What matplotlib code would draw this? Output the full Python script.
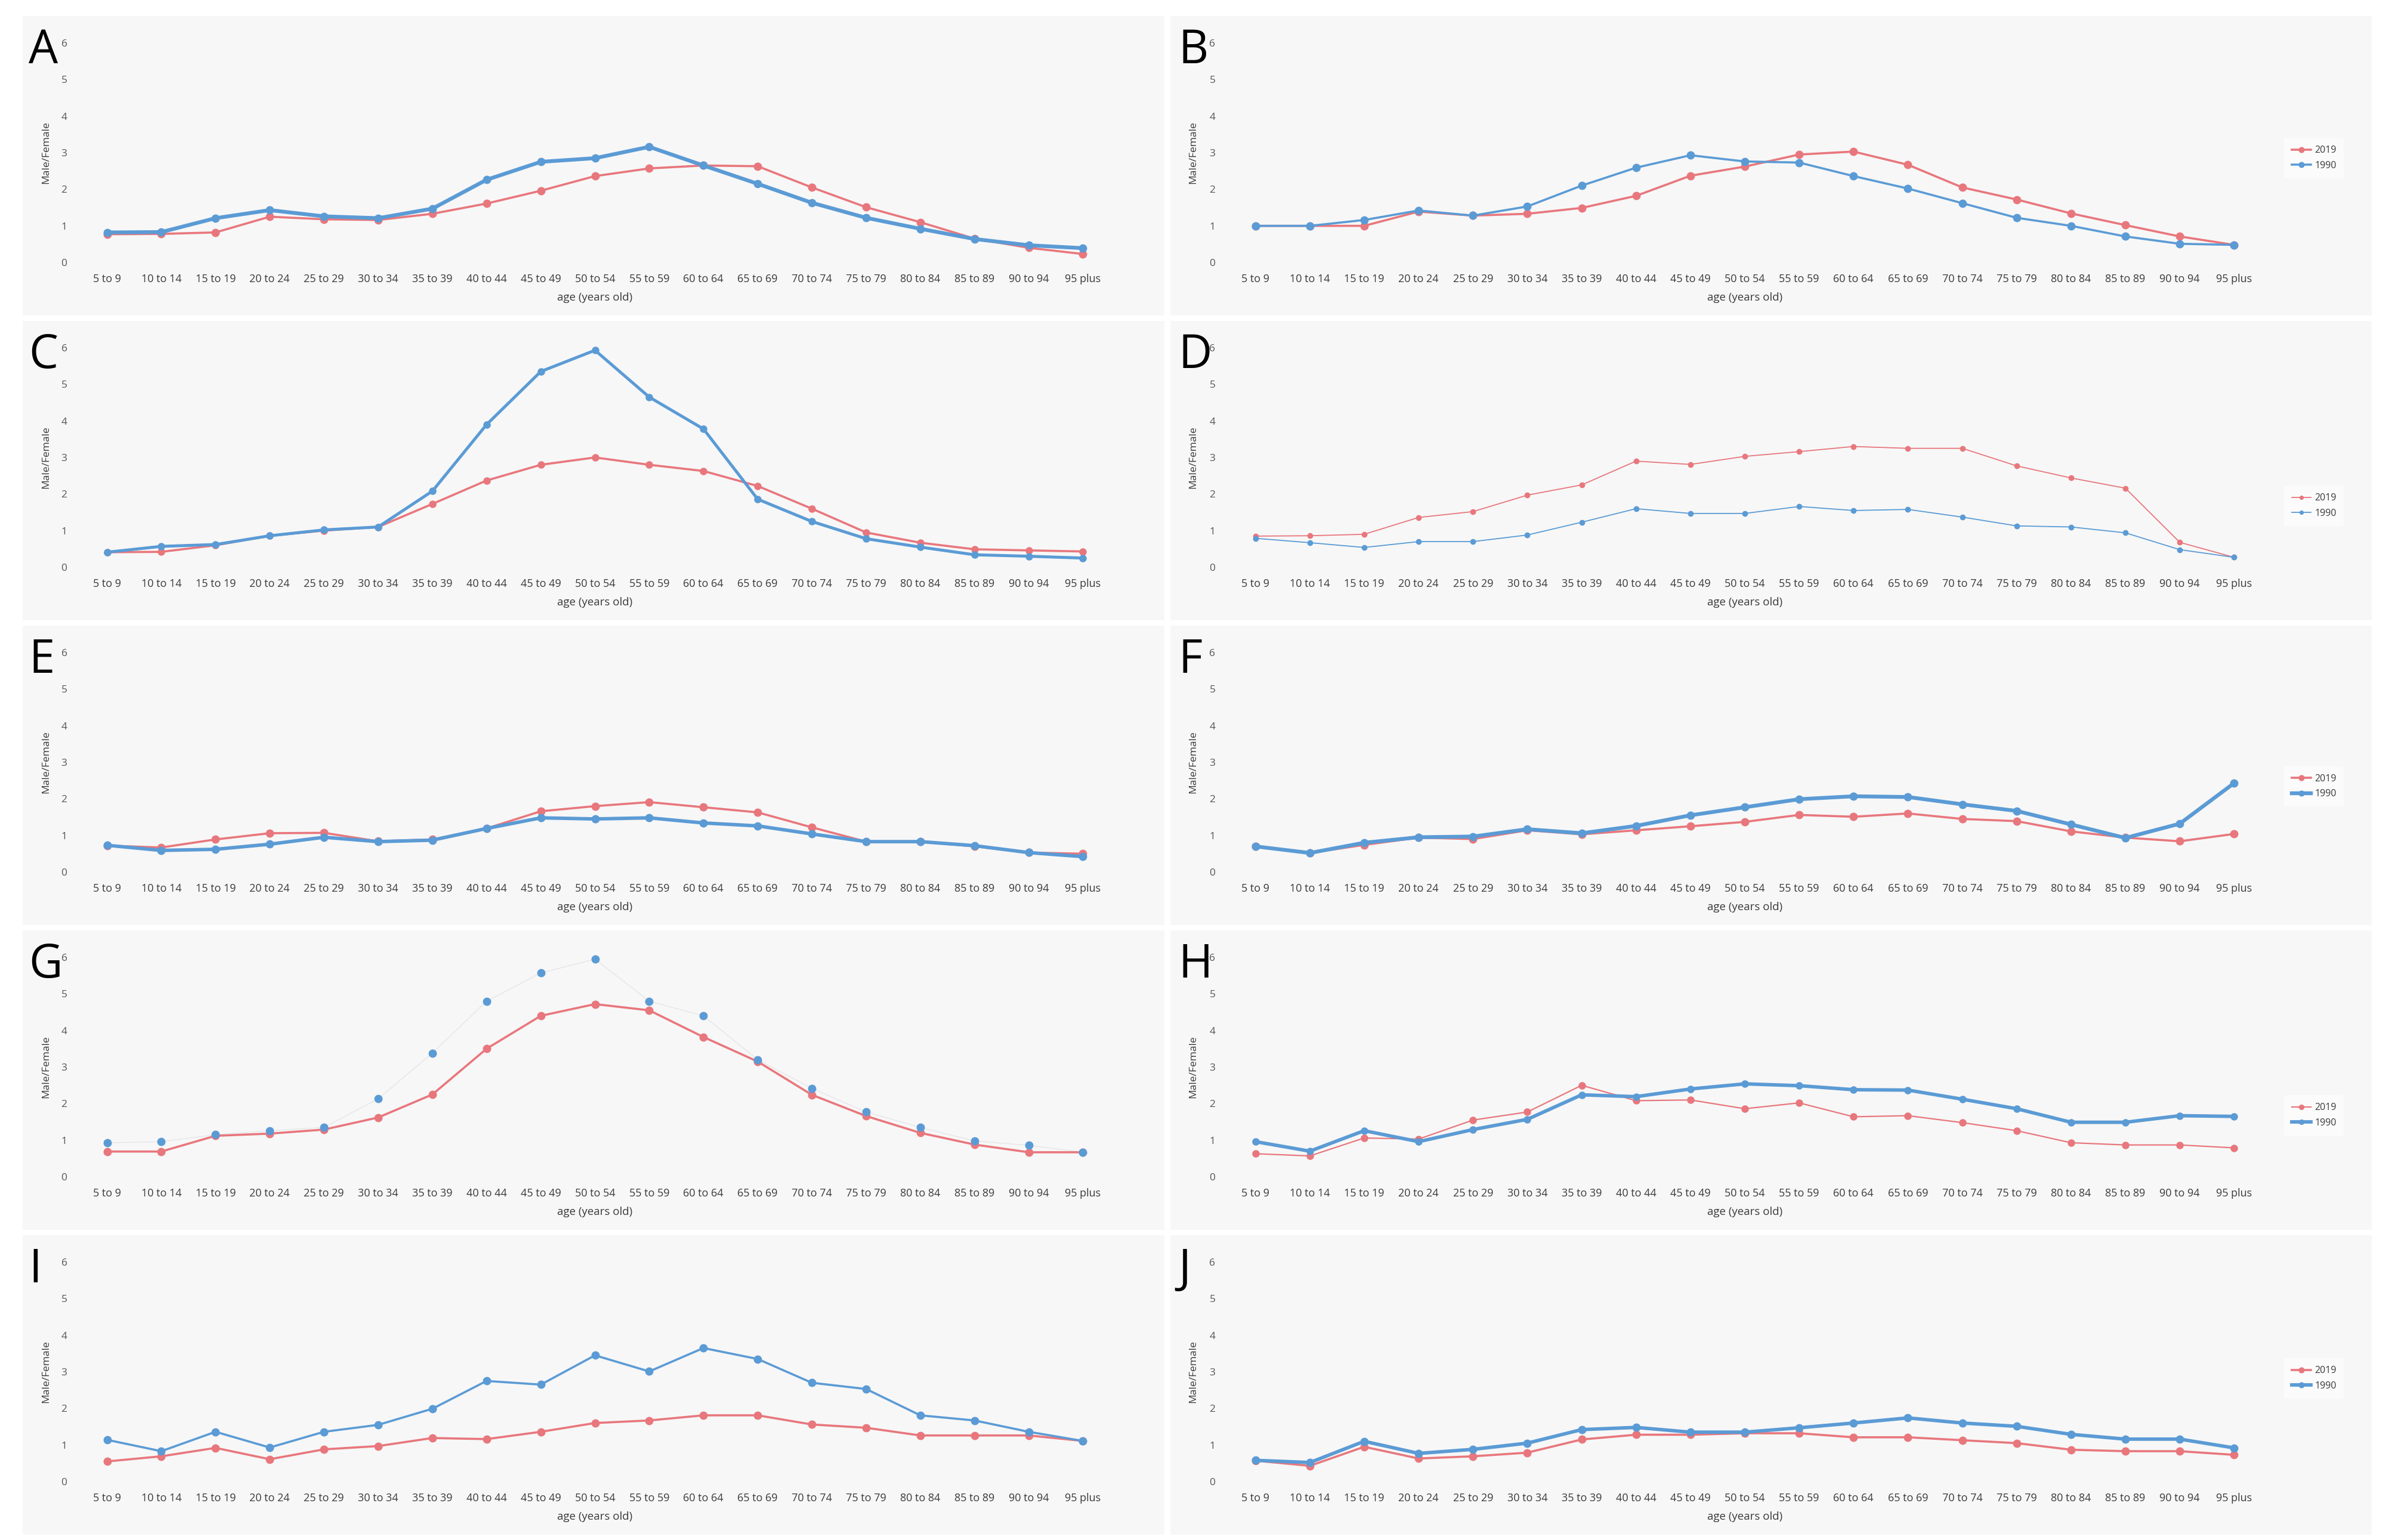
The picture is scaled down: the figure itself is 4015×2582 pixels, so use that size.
import matplotlib
matplotlib.use('Agg')
import matplotlib.pyplot as plt
from matplotlib.patches import Rectangle

plt.rcParams['font.family'] = ['Open Sans', 'DejaVu Sans']

ages = ['5 to 9', '10 to 14', '15 to 19', '20 to 24', '25 to 29', '30 to 34', '35 to 39',
        '40 to 44', '45 to 49', '50 to 54', '55 to 59', '60 to 64', '65 to 69', '70 to 74',
        '75 to 79', '80 to 84', '85 to 89', '90 to 94', '95 plus']
years = ['2019', '1990']
yticks = [0, 1, 2, 3, 4, 5, 6]

A_2019 = [0.77, 0.78, 0.82, 1.25, 1.18, 1.16, 1.33, 1.61, 1.96, 2.36, 2.57, 2.65, 2.63, 2.05, 1.51, 1.10, 0.65, 0.40, 0.23]
A_1990 = [0.82, 0.83, 1.21, 1.43, 1.26, 1.21, 1.47, 2.26, 2.75, 2.85, 3.16, 2.65, 2.15, 1.63, 1.22, 0.92, 0.64, 0.47, 0.39]
B_2019 = [1.00, 1.00, 1.00, 1.39, 1.28, 1.33, 1.49, 1.82, 2.37, 2.62, 2.95, 3.03, 2.67, 2.05, 1.72, 1.34, 1.02, 0.71, 0.48]
B_1990 = [1.00, 1.00, 1.16, 1.42, 1.28, 1.53, 2.10, 2.59, 2.93, 2.76, 2.73, 2.36, 2.02, 1.62, 1.22, 1.00, 0.71, 0.51, 0.48]
C_2019 = [0.41, 0.42, 0.60, 0.86, 1.00, 1.10, 1.73, 2.37, 2.80, 3.00, 2.80, 2.63, 2.22, 1.60, 0.95, 0.67, 0.49, 0.46, 0.43]
C_1990 = [0.41, 0.57, 0.62, 0.86, 1.02, 1.10, 2.08, 3.90, 5.35, 5.93, 4.65, 3.78, 1.86, 1.25, 0.78, 0.55, 0.34, 0.30, 0.25]
D_2019 = [0.85, 0.86, 0.90, 1.36, 1.52, 1.97, 2.25, 2.90, 2.81, 3.03, 3.16, 3.30, 3.25, 3.25, 2.77, 2.44, 2.16, 0.68, 0.27]
D_1990 = [0.79, 0.67, 0.54, 0.70, 0.70, 0.88, 1.23, 1.60, 1.47, 1.47, 1.66, 1.55, 1.58, 1.37, 1.13, 1.10, 0.94, 0.48, 0.27]
E_2019 = [0.72, 0.67, 0.89, 1.06, 1.07, 0.84, 0.89, 1.19, 1.66, 1.80, 1.91, 1.77, 1.63, 1.22, 0.83, 0.83, 0.70, 0.53, 0.50]
E_1990 = [0.73, 0.59, 0.62, 0.76, 0.95, 0.83, 0.87, 1.19, 1.48, 1.45, 1.48, 1.34, 1.26, 1.04, 0.83, 0.83, 0.72, 0.53, 0.42]
F_2019 = [0.70, 0.52, 0.74, 0.94, 0.90, 1.14, 1.03, 1.14, 1.25, 1.37, 1.56, 1.51, 1.60, 1.45, 1.39, 1.11, 0.94, 0.84, 1.04]
F_1990 = [0.70, 0.52, 0.80, 0.95, 0.97, 1.17, 1.06, 1.26, 1.55, 1.77, 1.99, 2.07, 2.05, 1.85, 1.67, 1.30, 0.93, 1.32, 2.43]
G_2019 = [0.69, 0.69, 1.12, 1.18, 1.29, 1.62, 2.25, 3.50, 4.40, 4.72, 4.55, 3.82, 3.15, 2.24, 1.66, 1.20, 0.88, 0.67, 0.67]
G_1990 = [0.93, 0.96, 1.15, 1.26, 1.35, 2.13, 3.38, 4.80, 5.57, 5.95, 4.80, 4.40, 3.20, 2.42, 1.77, 1.35, 0.98, 0.86, 0.67]
H_2019 = [0.63, 0.57, 1.06, 1.03, 1.55, 1.77, 2.50, 2.08, 2.10, 1.86, 2.02, 1.64, 1.67, 1.48, 1.26, 0.93, 0.87, 0.87, 0.79]
H_1990 = [0.96, 0.70, 1.26, 0.96, 1.29, 1.57, 2.24, 2.19, 2.40, 2.54, 2.49, 2.38, 2.37, 2.12, 1.86, 1.49, 1.49, 1.67, 1.65]
I_2019 = [0.55, 0.69, 0.92, 0.61, 0.88, 0.97, 1.19, 1.16, 1.36, 1.60, 1.67, 1.81, 1.81, 1.56, 1.47, 1.26, 1.26, 1.26, 1.11]
I_1990 = [1.14, 0.83, 1.36, 0.93, 1.36, 1.55, 1.99, 2.75, 2.65, 3.45, 3.01, 3.65, 3.35, 2.70, 2.53, 1.81, 1.67, 1.36, 1.11]
J_2019 = [0.57, 0.43, 0.95, 0.63, 0.69, 0.79, 1.15, 1.28, 1.28, 1.32, 1.32, 1.21, 1.21, 1.13, 1.05, 0.87, 0.83, 0.83, 0.73]
J_1990 = [0.58, 0.52, 1.10, 0.77, 0.88, 1.05, 1.42, 1.48, 1.35, 1.35, 1.47, 1.60, 1.74, 1.60, 1.51, 1.29, 1.16, 1.16, 0.92]

RED = '#E8777D'
BLUE = '#5B9BD5'
BG = '#F7F7F7'
TXT = '#3a3a3a'

W, H = 4015, 2582
fig = plt.figure(figsize=(W / 100, H / 100), dpi=100)
fig.patch.set_facecolor('white')


def rect(x0, y0, x1, y1):
    return [x0 / W, 1 - y1 / H, (x1 - x0) / W, (y1 - y0) / H]


# panel: letter, row, col, red data, blue data, red lw, blue lw, marker size, legend y (None = no legend), blue markers only
panels = [
    ('A', 0, 0, A_2019, A_1990, 2.6, 4.6, 9, None, False),
    ('B', 0, 1, B_2019, B_1990, 2.6, 2.6, 9, 0.475, False),
    ('C', 1, 0, C_2019, C_1990, 2.6, 3.6, 8, None, False),
    ('D', 1, 1, D_2019, D_1990, 1.3, 1.3, 6, 0.28, False),
    ('E', 2, 0, E_2019, E_1990, 2.6, 4.2, 9, None, False),
    ('F', 2, 1, F_2019, F_1990, 2.6, 4.6, 9, 0.39, False),
    ('G', 3, 0, G_2019, G_1990, 2.6, 0.9, 9, None, True),
    ('H', 3, 1, H_2019, H_1990, 1.6, 4.2, 8, 0.28, False),
    ('I', 4, 0, I_2019, I_1990, 2.6, 2.6, 9, None, False),
    ('J', 4, 1, J_2019, J_1990, 2.6, 4.2, 9, 0.47, False),
]

x = list(range(len(ages)))
ROW = 511

for letter, r, c, red, blue, lwr, lwb, ms, legy, blue_pts in panels:
    # panel background
    bx0, bx1 = (38, 1952) if c == 0 else (1962, 3976)
    by0 = 27 + ROW * r
    fig.add_artist(Rectangle(((bx0) / W, 1 - (by0 + 502) / H), (bx1 - bx0) / W, 502 / H,
                             transform=fig.transFigure, facecolor=BG, edgecolor='none', zorder=-10))
    ax0, ax1 = (125, 1870) if c == 0 else (2050, 3800)
    ay0, ay1 = 72 + ROW * r, 440 + ROW * r
    ax = fig.add_axes(rect(ax0, ay0, ax1, ay1))
    ax.set_facecolor('none')
    for s in ax.spines.values():
        s.set_visible(False)
    ax.set_xlim(-0.6, len(ages) - 0.4)
    ax.set_ylim(0, 6)
    ax.set_yticks(yticks)
    ax.set_yticklabels([str(t) for t in yticks], fontsize=12.5, color='#555555')
    ax.set_xticks(x)
    ax.set_xticklabels(ages, fontsize=13, color=TXT)
    ax.tick_params(axis='both', length=0)
    ax.tick_params(axis='y', pad=9)
    ax.tick_params(axis='x', pad=14)

    ax.plot(x, red, color=RED, lw=lwr, marker='o', ms=ms, mec=RED, mfc=RED,
            label=years[0], clip_on=False, zorder=3)
    if blue_pts:
        ax.plot(x, blue, color='#E4E4E4', lw=lwb, zorder=2, clip_on=False)
        ax.plot(x, blue, color=BLUE, lw=0, marker='o', ms=ms, mec=BLUE, mfc=BLUE,
                label=years[1], clip_on=False, zorder=4)
    else:
        ax.plot(x, blue, color=BLUE, lw=lwb, marker='o', ms=ms, mec=BLUE, mfc=BLUE,
                label=years[1], clip_on=False, zorder=4)

    ax.annotate('age (years old)', xy=(0.5, 0), xycoords='axes fraction',
                xytext=(0, -59 * 0.72), textcoords='offset points',
                ha='center', va='center', fontsize=13.5, color=TXT)
    ax.annotate('Male/Female', xy=(0, 0.5), xycoords='axes fraction',
                xytext=(-(ax0 - (77 if c == 0 else 2000)) * 0.72, 0), textcoords='offset points',
                ha='center', va='center', rotation=90, fontsize=12.5, color=TXT)

    lx = 48 if c == 0 else 1975
    fig.text(lx / W, 1 - (46 + ROW * r) / H, letter, fontsize=56, color='black',
             ha='left', va='top')

    if legy is not None:
        leg = ax.legend(loc='center left', bbox_to_anchor=(1.012, legy), fontsize=11.5,
                        frameon=True, handlelength=2.0, handletextpad=0.4, labelspacing=0.6,
                        markerscale=0.7, borderpad=0.8)
        leg.get_frame().set_facecolor('white')
        leg.get_frame().set_alpha(0.5)
        leg.get_frame().set_edgecolor('none')
        for t in leg.get_texts():
            t.set_color(TXT)

fig.savefig('out.png', dpi=100, facecolor='white')
